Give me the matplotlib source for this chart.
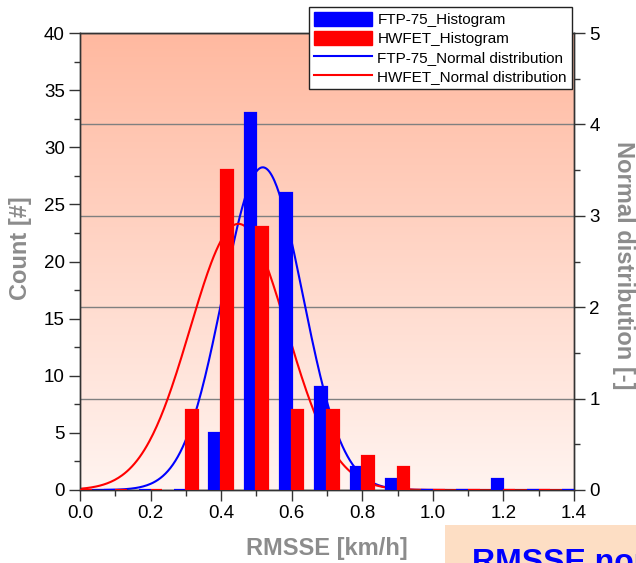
import numpy as np
import matplotlib.pyplot as plt
from matplotlib.patches import Rectangle, Patch
from matplotlib.lines import Line2D
from matplotlib.ticker import MultipleLocator

plt.rcParams['font.family'] = ['Liberation Sans', 'DejaVu Sans']

# histogram bins (RMSSE, km/h) and counts per cycle
bin_centers = [0.0, 0.1, 0.2, 0.3, 0.4, 0.5, 0.6, 0.7, 0.8, 0.9, 1.0, 1.1, 1.2, 1.3, 1.4]
ftp75_counts = [0, 0, 0, 0, 5, 33, 26, 9, 2, 1, 0, 0, 1, 0, 0]
hwfet_counts = [0, 0, 0, 7, 28, 23, 7, 7, 3, 2, 0, 0, 0, 0, 0]

# fitted normal distributions
ftp75_mean, ftp75_std = 0.518, 0.113
hwfet_mean, hwfet_std = 0.449, 0.137

blue = '#0000ff'
red = '#ff0000'
label_gray = '#8c8c8c'
spine_col = '#333333'


def normal_pdf(x, mu, sd):
    return np.exp(-0.5 * ((x - mu) / sd) ** 2) / (sd * np.sqrt(2 * np.pi))


fig = plt.figure(figsize=(6.36, 5.63), dpi=100)
ax = fig.add_axes([80 / 636, 1 - 490 / 563, 494 / 636, 457 / 563])
ax2 = ax.twinx()
# bars sit on top of the curves
ax.set_zorder(ax2.get_zorder() + 1)
ax.patch.set_visible(False)

# salmon gradient background
grad = np.linspace(0, 1, 256).reshape(-1, 1)
c_bottom = np.array([255, 244, 240]) / 255
c_top = np.array([255, 185, 160]) / 255
img = c_bottom + grad[..., None] * (c_top - c_bottom)
ax2.imshow(img, extent=[0, 1.4, 0, 5], aspect='auto', origin='lower', zorder=0)

xs = np.linspace(0, 1.4, 400)
ax2.plot(xs, normal_pdf(xs, ftp75_mean, ftp75_std), color=blue, lw=1.5, zorder=2)
ax2.plot(xs, normal_pdf(xs, hwfet_mean, hwfet_std), color=red, lw=1.5, zorder=2)
ax2.set_axisbelow(True)
ax2.yaxis.grid(True, color='#808080', lw=1.0)

w = 0.1 / 3
centers = np.array(bin_centers)
ax.bar(centers - w / 2, ftp75_counts, width=w, color=blue, edgecolor=blue, lw=1.6, zorder=3)
ax.bar(centers + w / 2, hwfet_counts, width=w, color=red, edgecolor=red, lw=1.6, zorder=3)

ax.set_xlim(0, 1.4)
ax.set_ylim(0, 40)
ax2.set_ylim(0, 5)
ax.xaxis.set_major_locator(MultipleLocator(0.2))
ax.xaxis.set_minor_locator(MultipleLocator(0.1))
ax.yaxis.set_major_locator(MultipleLocator(5))
ax.yaxis.set_minor_locator(MultipleLocator(2.5))
ax2.yaxis.set_major_locator(MultipleLocator(1))
ax2.yaxis.set_minor_locator(MultipleLocator(0.5))
ax.xaxis.set_major_formatter(plt.FormatStrFormatter('%.1f'))

for a in (ax, ax2):
    a.tick_params(which='major', direction='out', length=8, width=1, labelsize=13.5,
                  color=spine_col, pad=3)
    a.tick_params(which='minor', direction='out', length=4.5, width=1, color=spine_col)
    for s in a.spines.values():
        s.set_color(spine_col)
        s.set_linewidth(1)

fig.text(21 / 636, 1 - 248 / 563, 'Count [#]', rotation=90, ha='center', va='center',
         fontsize=17, fontweight='bold', color=label_gray)
fig.text(623 / 636, 1 - 265 / 563, 'Normal distribution [-]', rotation=270, ha='center',
         va='center', fontsize=17, fontweight='bold', color=label_gray)
fig.text(327 / 636, 1 - 548 / 563, 'RMSSE [km/h]', ha='center', va='center',
         fontsize=17, fontweight='bold', color=label_gray)

handles = [Patch(facecolor=blue, edgecolor=blue),
           Patch(facecolor=red, edgecolor=red),
           Line2D([], [], color=blue, lw=1.5),
           Line2D([], [], color=red, lw=1.5)]
labels = ['FTP-75_Histogram', 'HWFET_Histogram',
          'FTP-75_Normal distribution', 'HWFET_Normal distribution']
leg = ax.legend(handles, labels, loc='upper right', bbox_to_anchor=(572 / 636, 1 - 7 / 563),
                bbox_transform=fig.transFigure, fontsize=11, frameon=True, fancybox=False,
                framealpha=1, edgecolor='#222222', borderpad=0.33, labelspacing=0.26,
                handlelength=3.8, handleheight=1.0, handletextpad=0.33, borderaxespad=0)
leg.get_frame().set_linewidth(1)

# caption box peeking in at the lower right
fig.patches.append(Rectangle((445 / 636, 0), 1, 38 / 563, transform=fig.transFigure,
                             facecolor='#fddec4', edgecolor='none', zorder=0))
fig.text(472 / 636, -8 / 563, 'RMSSE normal distribution', color=blue, fontsize=23,
         fontweight='bold', va='baseline', ha='left')

fig.savefig('out.png', dpi=100)
